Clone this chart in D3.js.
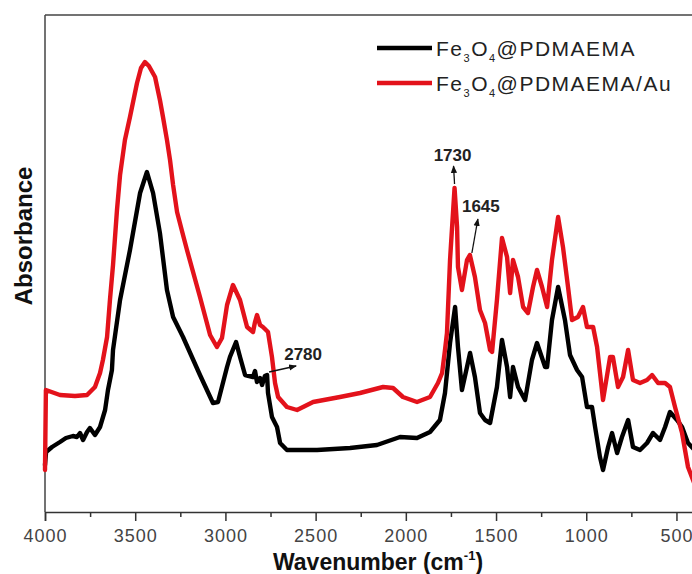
<!DOCTYPE html>
<html>
<head>
<meta charset="utf-8">
<script src="https://cdn.jsdelivr.net/npm/d3@7"></script>
<style>
  html, body { margin: 0; padding: 0; background: #fff; }
  svg { display: block; font-family: Arial, "Liberation Sans", sans-serif; }
</style>
</head>
<body>
<svg id="chart" width="692" height="574"></svg>
<script>
// FTIR spectra: wavenumber (cm^-1) and absorbance (arbitrary units)
const blackWn = [4000, 3994, 3961, 3917, 3884, 3845, 3823, 3806, 3789, 3767, 3751, 3723, 3695, 3667, 3651, 3629, 3623, 3584, 3529, 3473, 3435, 3401, 3363, 3324, 3290, 3235, 3141, 3069, 3041, 2991, 2975, 2941, 2919, 2891, 2847, 2836, 2825, 2808, 2797, 2781, 2769, 2764, 2742, 2714, 2697, 2659, 2492, 2309, 2160, 2032, 1938, 1866, 1811, 1783, 1755, 1727, 1711, 1689, 1661, 1644, 1617, 1589, 1561, 1533, 1495, 1467, 1439, 1422, 1406, 1378, 1339, 1301, 1273, 1228, 1217, 1190, 1156, 1118, 1090, 1051, 1023, 996, 968, 951, 924, 907, 879, 857, 829, 802, 768, 741, 702, 663, 630, 591, 563, 536, 497, 469, 436, 400];
const blackAbs = [9.4, 12.0, 13.0, 14.0, 14.8, 15.2, 15.0, 15.8, 14.4, 16.0, 16.8, 15.4, 17.0, 20.4, 24.4, 28.4, 32.4, 42.4, 52.4, 63.8, 68.0, 63.8, 55.8, 44.4, 39.0, 35.0, 27.4, 21.8, 22.0, 29.0, 31.0, 34.0, 31.0, 27.4, 27.0, 28.2, 26.0, 26.8, 25.4, 27.2, 27.4, 23.8, 19.0, 17.0, 13.8, 12.4, 12.4, 12.8, 13.4, 15.0, 14.8, 16.0, 18.4, 23.8, 33.8, 41.0, 33.0, 24.4, 29.0, 31.8, 27.0, 19.8, 18.4, 17.8, 25.0, 34.4, 29.0, 23.0, 29.0, 25.0, 22.4, 30.4, 33.8, 29.0, 29.0, 38.4, 45.0, 38.4, 31.4, 28.4, 27.0, 21.0, 21.0, 17.0, 11.0, 8.4, 13.0, 15.8, 11.8, 15.0, 18.4, 13.0, 12.4, 13.8, 15.8, 14.4, 17.0, 20.0, 18.4, 17.0, 13.8, 12.4];

const redWn = [4000, 3995, 3917, 3834, 3767, 3723, 3695, 3679, 3656, 3640, 3623, 3601, 3584, 3557, 3529, 3490, 3468, 3446, 3424, 3390, 3363, 3346, 3324, 3307, 3290, 3268, 3235, 3213, 3141, 3085, 3047, 3019, 2991, 2958, 2919, 2880, 2847, 2836, 2825, 2808, 2792, 2764, 2742, 2725, 2708, 2659, 2603, 2514, 2365, 2254, 2126, 2071, 2016, 1938, 1866, 1822, 1799, 1783, 1772, 1755, 1730, 1716, 1711, 1689, 1661, 1645, 1617, 1589, 1561, 1533, 1522, 1495, 1467, 1439, 1422, 1406, 1378, 1350, 1323, 1295, 1273, 1245, 1217, 1190, 1156, 1129, 1101, 1079, 1046, 1018, 996, 962, 940, 913, 907, 868, 852, 824, 796, 768, 741, 702, 663, 635, 602, 563, 536, 508, 469, 436, 400];
const redAbs = [8.4, 24.4, 23.4, 23.2, 23.4, 25.0, 27.8, 30.4, 35.0, 42.4, 49.4, 60.4, 67.4, 74.4, 79.0, 85.8, 88.8, 90.0, 89.2, 87.0, 82.4, 79.0, 74.4, 70.4, 65.4, 60.0, 55.4, 52.4, 43.0, 35.4, 33.0, 34.8, 41.4, 45.4, 42.4, 37.0, 36.0, 38.0, 39.4, 37.4, 37.0, 36.0, 31.0, 25.8, 23.0, 21.0, 20.4, 22.0, 23.0, 23.8, 25.0, 24.8, 23.0, 22.0, 23.0, 25.8, 27.8, 32.4, 35.8, 50.4, 64.8, 57.0, 49.0, 44.4, 50.4, 51.4, 47.0, 40.4, 37.8, 32.4, 32.0, 42.4, 54.8, 51.0, 43.8, 50.4, 47.0, 41.0, 39.8, 45.0, 48.4, 45.0, 41.0, 50.4, 59.0, 53.0, 45.0, 38.4, 39.0, 41.0, 37.0, 37.0, 33.0, 24.4, 22.4, 31.0, 31.0, 25.0, 27.0, 32.4, 26.4, 25.8, 26.4, 27.4, 25.8, 25.8, 25.0, 21.0, 15.8, 9.0, 5.6];

const seriesNames = ["Fe3O4@PDMAEMA", "Fe3O4@PDMAEMA/Au"];
const seriesColors = ["#000000", "#e3121b"];

const majorTicks = [4000, 3500, 3000, 2500, 2000, 1500, 1000, 500];
const minorTicks = [3750, 3250, 2750, 2250, 1750, 1250, 750];

// peak annotations: label and wavenumber of the marked band
const peakLabels = ["1730", "1645", "2780"];
const peakWn = [1730, 1645, 2780];

const svg = d3.select("#chart");

const x = d3.scaleLinear().domain([4000, 400]).range([45, 694.5]);
const y = d3.scaleLinear().domain([0, 99.4]).range([512, 15]);

// frame: left and top border
svg.append("line").attr("x1", 45).attr("x2", 45).attr("y1", 15).attr("y2", 512)
  .attr("stroke", "#444").attr("stroke-width", 1.5);
svg.append("line").attr("x1", 45).attr("x2", 692).attr("y1", 15).attr("y2", 15)
  .attr("stroke", "#444").attr("stroke-width", 1.5);

// bottom axis with minor ticks
const axisG = svg.append("g").attr("transform", "translate(0,512)");
axisG.call(d3.axisBottom(x).tickValues(majorTicks).tickSize(9).tickPadding(8).tickFormat(d3.format("d")));
axisG.append("g").call(d3.axisBottom(x).tickValues(minorTicks).tickSize(5).tickFormat(""))
  .select(".domain").remove();
axisG.selectAll(".domain").attr("stroke", "#333").attr("stroke-width", 1.5);
axisG.selectAll(".tick line").attr("stroke", "#333").attr("stroke-width", 1.5);
axisG.selectAll(".tick text")
  .attr("font-size", 18).attr("fill", "#444")
  .attr("font-family", "Arial, 'Liberation Sans', sans-serif")
  .attr("letter-spacing", "1px");

// spectra
const line = d3.line().x(d => x(d[0])).y(d => y(d[1]));
const blackData = blackWn.map((w, i) => [w, blackAbs[i]]);
const redData = redWn.map((w, i) => [w, redAbs[i]]);

svg.append("path").datum(blackData).attr("d", line)
  .attr("fill", "none").attr("stroke", seriesColors[0]).attr("stroke-width", 4.4)
  .attr("stroke-linejoin", "round").attr("stroke-linecap", "round");
svg.append("path").datum(redData).attr("d", line)
  .attr("fill", "none").attr("stroke", seriesColors[1]).attr("stroke-width", 4.4)
  .attr("stroke-linejoin", "round").attr("stroke-linecap", "round");

// arrow marker
svg.append("defs").append("marker")
  .attr("id", "arrowhead").attr("viewBox", "0 0 10 10")
  .attr("refX", 9).attr("refY", 5)
  .attr("markerWidth", 6).attr("markerHeight", 6)
  .attr("orient", "auto-start-reverse")
  .append("path").attr("d", "M0,1 L10,5 L0,9 Z").attr("fill", "#111");

const redAt = w => redAbs[redWn.indexOf(w)];

// 1730 annotation (above the red carbonyl peak)
const p1x = x(peakWn[0]);
svg.append("line").attr("x1", p1x).attr("y1", y(redAt(1730)) - 4)
  .attr("x2", p1x - 1).attr("y2", y(redAt(1730)) - 22)
  .attr("stroke", "#111").attr("stroke-width", 1.3).attr("marker-end", "url(#arrowhead)");
svg.append("text").attr("x", p1x - 2).attr("y", y(redAt(1730)) - 27)
  .attr("text-anchor", "middle").attr("font-size", 17).attr("font-weight", "bold")
  .attr("fill", "#222").text(peakLabels[0]);

// 1645 annotation
const p2x = x(peakWn[1]);
svg.append("line").attr("x1", p2x + 2).attr("y1", y(redAt(1645)) - 2)
  .attr("x2", p2x + 8).attr("y2", y(redAt(1645)) - 36)
  .attr("stroke", "#111").attr("stroke-width", 1.3).attr("marker-end", "url(#arrowhead)");
svg.append("text").attr("x", p2x + 11).attr("y", y(redAt(1645)) - 43)
  .attr("text-anchor", "middle").attr("font-size", 17).attr("font-weight", "bold")
  .attr("fill", "#222").text(peakLabels[1]);

// 2780 annotation
const p3x = x(peakWn[2]);
svg.append("line").attr("x1", p3x + 4).attr("y1", 372)
  .attr("x2", p3x + 31).attr("y2", 366)
  .attr("stroke", "#111").attr("stroke-width", 1.3).attr("marker-end", "url(#arrowhead)");
svg.append("text").attr("x", p3x + 38).attr("y", 360)
  .attr("text-anchor", "middle").attr("font-size", 17).attr("font-weight", "bold")
  .attr("fill", "#222").text(peakLabels[2]);

// legend
const legendRows = [48, 83];
seriesNames.forEach((name, i) => {
  const ly = legendRows[i];
  svg.append("line").attr("x1", 377).attr("x2", 432).attr("y1", ly).attr("y2", ly)
    .attr("stroke", seriesColors[i]).attr("stroke-width", 4.5);
  const t = svg.append("text").attr("x", 436).attr("y", ly + 8)
    .attr("font-size", 21).attr("fill", "#222").attr("letter-spacing", "1.5px");
  t.append("tspan").text("Fe");
  t.append("tspan").attr("font-size", 11).attr("dy", 6).text("3");
  t.append("tspan").attr("dy", -6).text("O");
  t.append("tspan").attr("font-size", 11).attr("dy", 6).text("4");
  t.append("tspan").attr("dy", -6).text(name.replace("Fe3O4", ""));
});

// axis titles
const xt = svg.append("text").attr("x", 378).attr("y", 570)
  .attr("text-anchor", "middle").attr("font-size", 23).attr("font-weight", "bold")
  .attr("fill", "#111");
xt.append("tspan").text("Wavenumber (cm");
xt.append("tspan").attr("font-size", 13).attr("dy", -10).text("-1");
xt.append("tspan").attr("dy", 10).text(")");

svg.append("text")
  .attr("transform", "translate(32,236) rotate(-90)")
  .attr("text-anchor", "middle").attr("font-size", 24).attr("font-weight", "bold")
  .attr("fill", "#111").text("Absorbance");
</script>
</body>
</html>
